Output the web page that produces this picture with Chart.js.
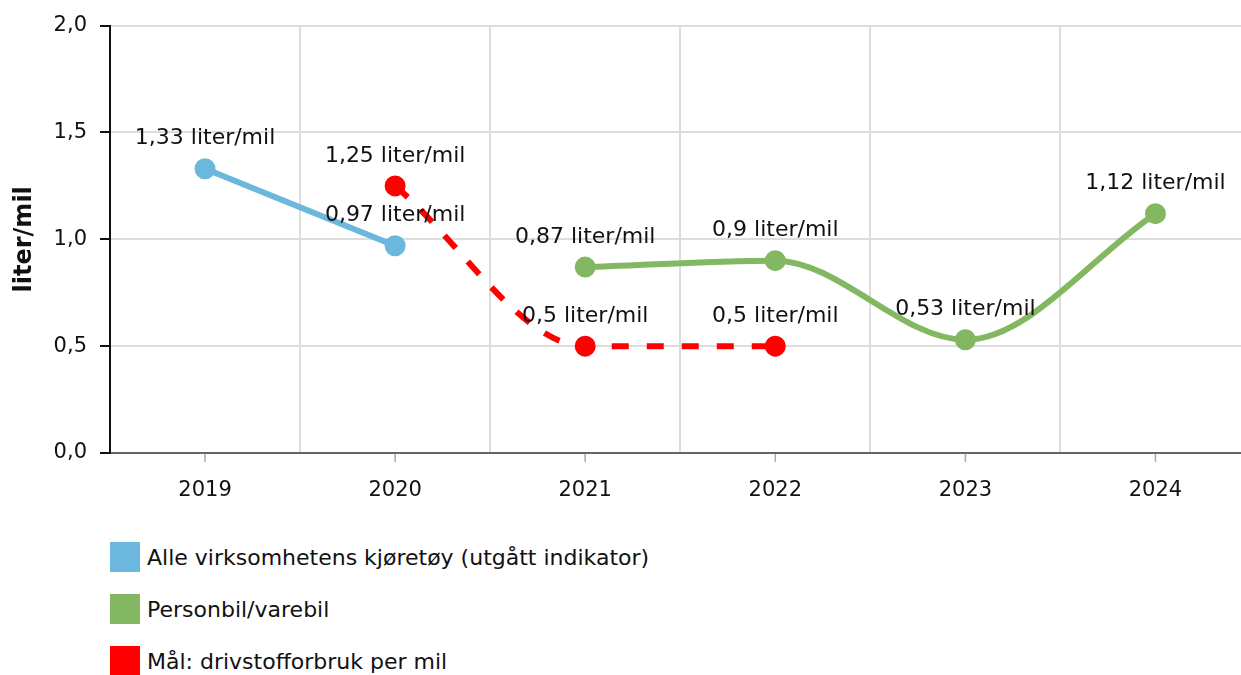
<!DOCTYPE html>
<html>
<head>
<meta charset="utf-8">
<script src="https://cdn.jsdelivr.net/npm/chart.js@4"></script>
<style>
  html, body { margin: 0; padding: 0; background: #fff; overflow: hidden; }
  #wrap { position: relative; width: 1264px; height: 520px; }
  #legend { position: absolute; left: 110px; top: 542px; font-family: "DejaVu Sans", Verdana, sans-serif; font-size: 22px; color: #111; }
  .item { display: flex; align-items: center; height: 30px; margin-bottom: 22px; }
  .box { width: 30px; height: 30px; margin-right: 7px; }
</style>
</head>
<body>
<div id="wrap"><canvas id="myChart" width="1264" height="520"></canvas></div>
<div id="legend"></div>
<script>
// values
const years = ['2019', '2020', '2021', '2022', '2023', '2024'];
const alleKjoretoy = [1.33, 0.97, null, null, null, null];
const personbil = [null, null, 0.87, 0.9, 0.53, 1.12];
const maal = [null, 1.25, 0.5, 0.5, null, null];
const yTicks = [0, 0.5, 1, 1.5, 2];

const blue = 'rgb(108, 184, 220)';
const green = 'rgb(132, 183, 97)';
const red = 'rgb(255, 0, 0)';
const font = '"DejaVu Sans", Verdana, sans-serif';

function komma(v, d) {
  return (d == null ? String(v) : v.toFixed(d)).replace('.', ',');
}

// labels above every point
const pointLabels = {
  id: 'pointLabels',
  afterDatasetsDraw(chart) {
    const ctx = chart.ctx;
    ctx.save();
    ctx.font = '22px ' + font;
    ctx.fillStyle = '#111';
    ctx.textAlign = 'center';
    ctx.textBaseline = 'middle';
    chart.data.datasets.forEach((ds, i) => {
      chart.getDatasetMeta(i).data.forEach((pt, j) => {
        const v = ds.data[j];
        if (v == null) return;
        ctx.fillText(komma(v) + ' liter/mil', pt.x, pt.y - 30);
      });
    });
    ctx.restore();
  }
};

// small ticks under the x axis at the category centres
const centreTicks = {
  id: 'centreTicks',
  afterDraw(chart) {
    const x = chart.scales.x, ctx = chart.ctx;
    ctx.save();
    ctx.strokeStyle = '#aaa';
    ctx.lineWidth = 1.5;
    years.forEach((y, i) => {
      const px = x.getPixelForValue(i);
      ctx.beginPath();
      ctx.moveTo(px, x.top + 1);
      ctx.lineTo(px, x.top + 9);
      ctx.stroke();
    });
    ctx.restore();
  }
};

const data = {
  labels: years,
  datasets: [{
    label: 'Alle virksomhetens kjøretøy (utgått indikator)',
    data: alleKjoretoy,
    borderColor: blue,
    backgroundColor: blue,
    borderWidth: 6,
    pointRadius: 7.5,
    tension: 0
  }, {
    label: 'Personbil/varebil',
    data: personbil,
    borderColor: green,
    backgroundColor: green,
    borderWidth: 6,
    pointRadius: 7.5,
    cubicInterpolationMode: 'monotone'
  }, {
    label: 'Mål: drivstofforbruk per mil',
    data: maal,
    borderColor: red,
    backgroundColor: red,
    borderWidth: 6,
    borderDash: [17, 18],
    pointRadius: 7.5,
    cubicInterpolationMode: 'monotone'
  }]
};

const config = {
  type: 'line',
  data,
  options: {
    responsive: false,
    animation: false,
    layout: { padding: { top: 25, right: 0, bottom: 0, left: 0 } },
    plugins: {
      legend: { display: false },
      tooltip: { enabled: false }
    },
    scales: {
      x: {
        offset: true,
        grid: { offset: true, color: '#ddd', lineWidth: 2, drawTicks: false },
        border: { color: '#666', width: 2 },
        ticks: { color: '#111', font: { family: font, size: 21 }, padding: 25 },
        afterFit(s) { s.height = 67; }
      },
      y: {
        min: 0,
        max: 2,
        afterBuildTicks(s) { s.ticks = yTicks.map(v => ({ value: v })); },
        grid: { color: '#ddd', lineWidth: 2, tickColor: '#111', tickLength: 10 },
        border: { color: '#111', width: 2 },
        ticks: {
          color: '#111',
          font: { family: font, size: 21 },
          padding: 13,
          callback: v => komma(v, 1)
        },
        title: {
          display: true,
          text: 'liter/mil',
          color: '#111',
          font: { family: font, size: 24, weight: 'bold' },
          padding: { top: 10, bottom: 0 }
        },
        afterFit(s) { s.width = 110; }
      }
    }
  },
  plugins: [pointLabels, centreTicks]
};

var myChart = new Chart(document.getElementById('myChart'), config);

// legend, one entry per line
const legend = document.getElementById('legend');
data.datasets.forEach(ds => {
  const item = document.createElement('div');
  item.className = 'item';
  const box = document.createElement('div');
  box.className = 'box';
  box.style.background = ds.borderColor;
  const txt = document.createElement('span');
  txt.textContent = ds.label;
  item.appendChild(box);
  item.appendChild(txt);
  legend.appendChild(item);
});
</script>
</body>
</html>
